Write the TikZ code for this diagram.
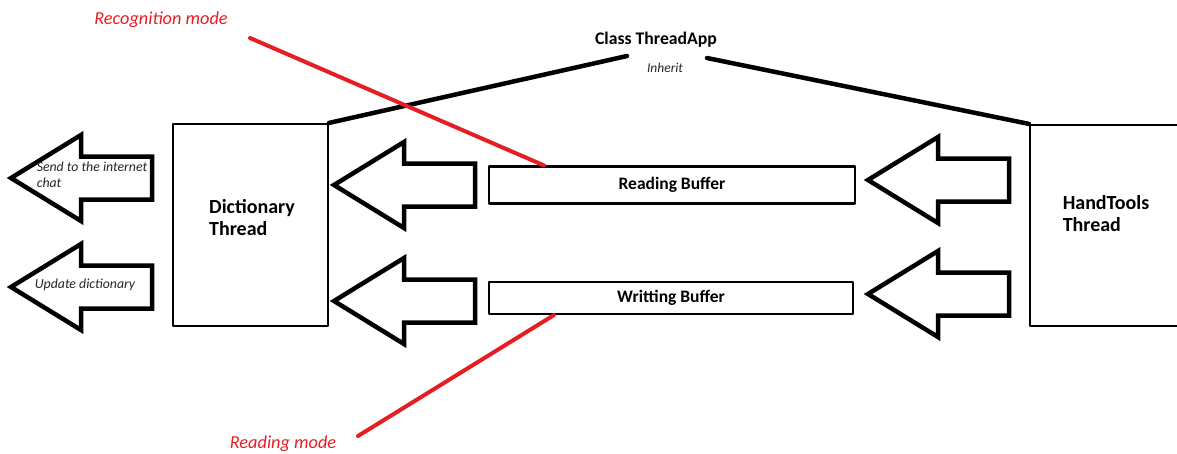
\documentclass[tikz,border=0pt]{standalone}
\usepackage{fontspec}
\setmainfont{Carlito}
\definecolor{markred}{RGB}{230,30,36}

\begin{document}
\begin{tikzpicture}[
        x=1pt, y=-1pt,
        line cap=round, line join=round,
        thread/.style={draw, line width=2.2pt, rectangle, inner sep=0pt},
        buffer/.style={draw, line width=2.2pt, rectangle, inner sep=0pt,
            font=\fontsize{17.5}{20}\selectfont\bfseries},
        title/.style={font=\fontsize{20}{22}\selectfont\bfseries, align=left, inner sep=0pt},
        note/.style={font=\fontsize{13.8}{16}\selectfont\itshape, align=left, inner sep=0pt, text=black!85},
        mode/.style={font=\fontsize{18.3}{20}\selectfont\itshape, text=markred, inner sep=0pt},
        inherit/.style={line width=4.5pt},
        pointer/.style={line width=4pt, color=markred},
        hollow arrow/.pic={
            \draw[line width=4.5pt, line join=miter, line cap=butt]
            (0,0) -- (70,-43) -- (70,-21.5) -- (141,-21.5) -- (141,21.5) -- (70,21.5) -- (70,43) -- cycle;
        }
    ]
    \useasboundingbox (0,0) rectangle (1177,453);
    \node[thread, minimum width=155, minimum height=202] (dict) at (250.5,225) {};
    \node[thread, minimum width=148, minimum height=201] (hand) at (1104,225.5) {};
    \node[buffer, minimum width=366, minimum height=37] (read) at (672,185) {Reading Buffer};
    \node[buffer, minimum width=364, minimum height=32] (write) at (671,298) {Writting Buffer};
    \node[title] (dicttext) at (252,218) {Dictionary\\Thread};
    \node[title] (handtext) at (1106,214) {HandTools\\Thread};
    \node[title, font=\fontsize{17.7}{20}\selectfont\bfseries] (app) at (656,40) {Class ThreadApp};
    \node[note, font=\fontsize{13.5}{16}\selectfont\itshape] (inh) at (665,68) {Inherit};
    \pic at (11,178) {hollow arrow};
    \pic at (11,287) {hollow arrow};
    \pic at (334,185) {hollow arrow};
    \pic at (334,301) {hollow arrow};
    \pic at (868,180) {hollow arrow};
    \pic at (868,294) {hollow arrow};
    \node[note] (send) at (92,175) {Send to the internet\\chat};
    \node[note] (update) at (85,285) {Update dictionary};
    \coordinate (appleft) at (627,56);
    \coordinate (appright) at (707,58);
    \draw[inherit] (dict.north east) -- (appleft);
    \draw[inherit] (appright) -- (hand.north west);
    \node[mode] (recog) at (161,20) {Recognition mode};
    \node[mode] (readmode) at (283,444) {Reading mode};
    \coordinate (recogend) at (250,38);
    \coordinate (readend) at (358,436);
    \draw[pointer] (recogend) -- ([xshift=56]read.north west);
    \draw[pointer] ([xshift=66]write.south west) -- (readend);
\end{tikzpicture}
\end{document}
